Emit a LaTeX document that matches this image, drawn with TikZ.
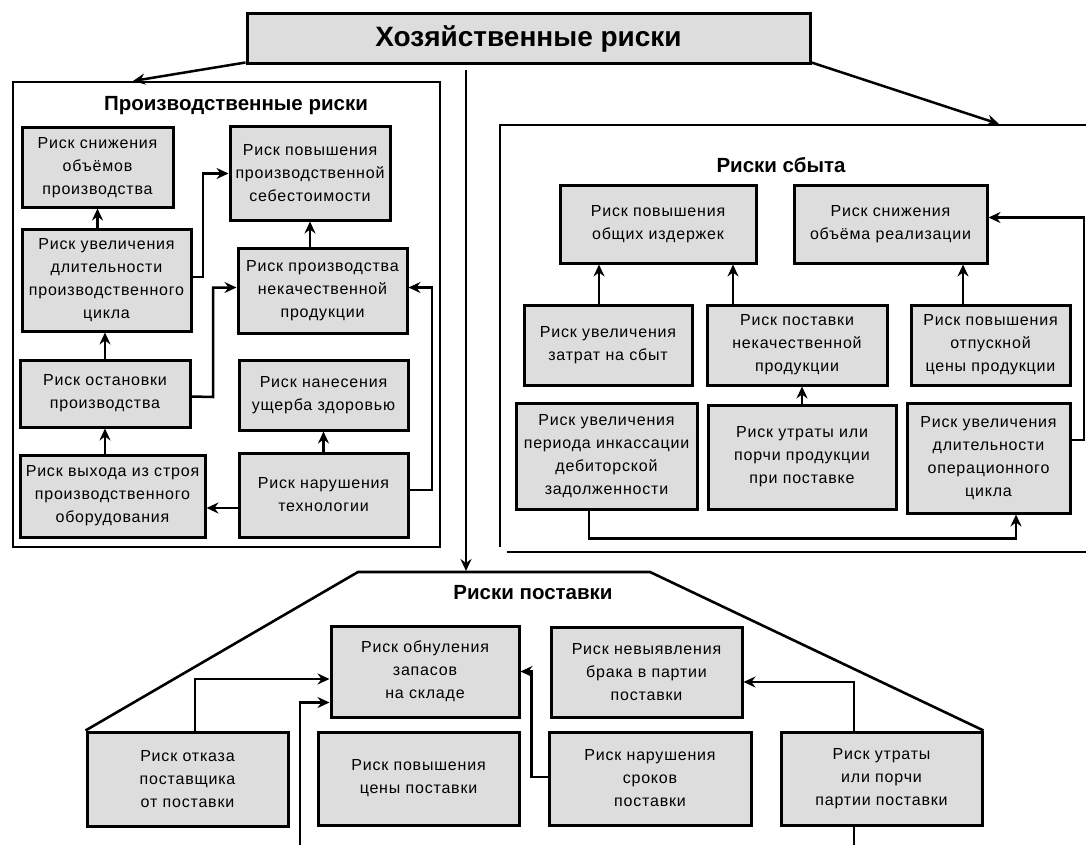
\documentclass[tikz,border=0pt]{standalone}
\usepackage{fontspec}
\setmainfont{Liberation Sans}
\usetikzlibrary{arrows.meta}
\definecolor{boxgray}{RGB}{221,221,221}
\begin{document}
\begin{tikzpicture}[x=1pt,y=-1pt,
  rbox/.style={draw=black, line width=3pt, fill=boxgray, align=center, inner sep=2pt,
    font=\fontsize{16}{23}\selectfont\addfontfeature{LetterSpace=5}},
  frm/.style={line width=2.6pt, line join=miter},
  arr/.style={line width=2.5pt, -{Stealth[length=12pt,width=11pt,inset=4pt]}},
  conn/.style={line width=2.5pt},
  ttl/.style={font=\fontsize{20.5}{24}\selectfont\bfseries},
  mainttl/.style={font=\fontsize{28}{32}\selectfont\bfseries}
]
\fill[white] (0,0) rectangle (1086,845);
\useasboundingbox (0,0) rectangle (1086,845);

% main title
\node[rbox, mainttl, minimum width=563pt, minimum height=50pt] (T) at (528.5,39) {Хозяйственные риски};

% ---------- production ----------
\draw[frm] (13,82) rectangle (440,547);
\node[ttl] (PT) at (236,106) {Производственные риски};
\node[rbox, minimum width=151pt, minimum height=79pt] (B1) at (97.5,167.5) {Риск снижения\\объёмов\\производства};
\node[rbox, minimum width=169pt, minimum height=102pt] (B2) at (106.5,280) {Риск увеличения\\длительности\\производственного\\цикла};
\node[rbox, minimum width=170pt, minimum height=67pt] (B3) at (105,393.5) {Риск остановки\\производства};
\node[rbox, minimum width=185pt, minimum height=82pt] (B4) at (112.5,496) {Риск выхода из строя\\производственного\\оборудования};
\node[rbox, minimum width=160pt, minimum height=93pt] (B5) at (310,173.5) {Риск повышения\\производственной\\себестоимости};
\node[rbox, minimum width=169pt, minimum height=85pt] (B6) at (322.5,290.5) {Риск производства\\некачественной\\продукции};
\node[rbox, minimum width=169pt, minimum height=70pt] (B7) at (323.5,395) {Риск нанесения\\ущерба здоровью};
\node[rbox, minimum width=169pt, minimum height=84pt] (B8) at (323.5,495) {Риск нарушения\\технологии};

\draw[arr] (B1.south |- B2.north) -- (B1.south);
\draw[arr] (B3.north) -- (B3.north |- B2.south);
\draw[arr] (B3.south |- B4.north) -- (B3.south);
\draw[arr] ([yshift=-13pt]B8.west) -- ([yshift=-13pt]B8.west -| B4.east);
\draw[arr] (B8.north) -- (B7.south);
\draw[arr] (B5.south |- B6.north) -- (B5.south);
\draw[arr] ([yshift=3pt]B2.east) -- (203,277) |- (B5.west);
\draw[arr] ([yshift=-3pt]B3.east) -- (213,397) |- ([yshift=3pt]B6.west);
\draw[arr] ([yshift=5pt]B8.east) -- (432,490) |- ([yshift=3pt]B6.east);

% ---------- sales ----------
\draw[frm] (1092,125) -- (500,125) -- (500,547);
\draw[frm] (507,552) -- (1092,552);
\node[ttl] (ST) at (781,165) {Риски сбыта};
\node[rbox, minimum width=196pt, minimum height=77pt] (S1) at (658,224.5) {Риск повышения\\общих издержек};
\node[rbox, minimum width=193pt, minimum height=77pt] (S2) at (890.5,224.5) {Риск снижения\\объёма реализации};
\node[rbox, minimum width=168pt, minimum height=80pt] (S3) at (608,345) {Риск увеличения\\затрат на сбыт};
\node[rbox, minimum width=180pt, minimum height=80pt] (S4) at (797,345) {Риск поставки\\некачественной\\продукции};
\node[rbox, minimum width=159pt, minimum height=80pt] (S5) at (990.5,345) {Риск повышения\\отпускной\\цены продукции};
\node[rbox, minimum width=181pt, minimum height=106pt] (S6) at (606.5,456) {Риск увеличения\\периода инкассации\\дебиторской\\задолженности};
\node[rbox, minimum width=188pt, minimum height=104pt] (S7) at (802,457) {Риск утраты или\\порчи продукции\\при поставке};
\node[rbox, minimum width=163pt, minimum height=110pt] (S8) at (988.5,458) {Риск увеличения\\длительности\\операционного\\цикла};

\draw[arr] ([xshift=-9pt]S3.north) -- ([xshift=-9pt]S3.north |- S1.south);
\draw[arr] ([xshift=-64pt]S4.north) -- ([xshift=-64pt]S4.north |- S1.south);
\draw[arr] ([xshift=-27.5pt]S5.north) -- ([xshift=-27.5pt]S5.north |- S2.south);
\draw[arr] (S7.north) -- (S7.north |- S4.south);
\draw[arr] ([xshift=-17.5pt]S6.south) -- ++(0,28) -| ([xshift=27.5pt]S8.south);
\draw[arr] ([yshift=18pt]S8.east) -- (1084,440) |- ([yshift=7pt]S2.east);

% ---------- supply ----------
\node[rbox, minimum width=188pt, minimum height=91pt] (P1) at (425,671.5) {Риск обнуления\\запасов\\на складе};
\node[rbox, minimum width=191pt, minimum height=90pt] (P2) at (646.5,672) {Риск невыявления\\брака в партии\\поставки};
\node[rbox, minimum width=201pt, minimum height=94pt] (P3) at (187.5,779) {Риск отказа\\поставщика\\от поставки};
\node[rbox, minimum width=201pt, minimum height=93pt] (P4) at (418.5,778.5) {Риск повышения\\цены поставки};
\node[rbox, minimum width=202pt, minimum height=93pt] (P5) at (650,778.5) {Риск нарушения\\сроков\\поставки};
\node[rbox, minimum width=201pt, minimum height=93pt] (P6) at (881.5,778.5) {Риск утраты\\или порчи\\партии поставки};
\draw[frm] (P3.north west) -- (358,572) -- (650,572) -- (P6.north east);
\node[ttl] (PST) at (533,593) {Риски поставки};

\draw[arr] ([xshift=7.5pt]P3.north) |- ([yshift=-7.5pt]P1.west);
\coordinate (bl) at (300,850);
\draw[arr] (bl) |- ([yshift=-31pt]P1.west);
\draw[arr] ([yshift=1.5pt]P5.west) -- ++(-16,0) |- (P1.east);
\draw[arr] ([xshift=-27.5pt]P6.north) |- ([yshift=-10pt]P2.east);
\coordinate (br) at (854,850);
\draw[conn] ([xshift=-27.5pt]P6.south) -- (br);

% ---------- from title ----------
\coordinate (ptop) at (133,81);
\coordinate (stop) at (999,124);
\coordinate (ctop) at (466,70);
\coordinate (cbot) at (466,571);
\draw[arr] ([yshift=3pt]T.south west) -- (ptop);
\draw[arr] ([yshift=3pt]T.south east) -- (stop);
\draw[arr] (ctop) -- (cbot);
\end{tikzpicture}
\end{document}
